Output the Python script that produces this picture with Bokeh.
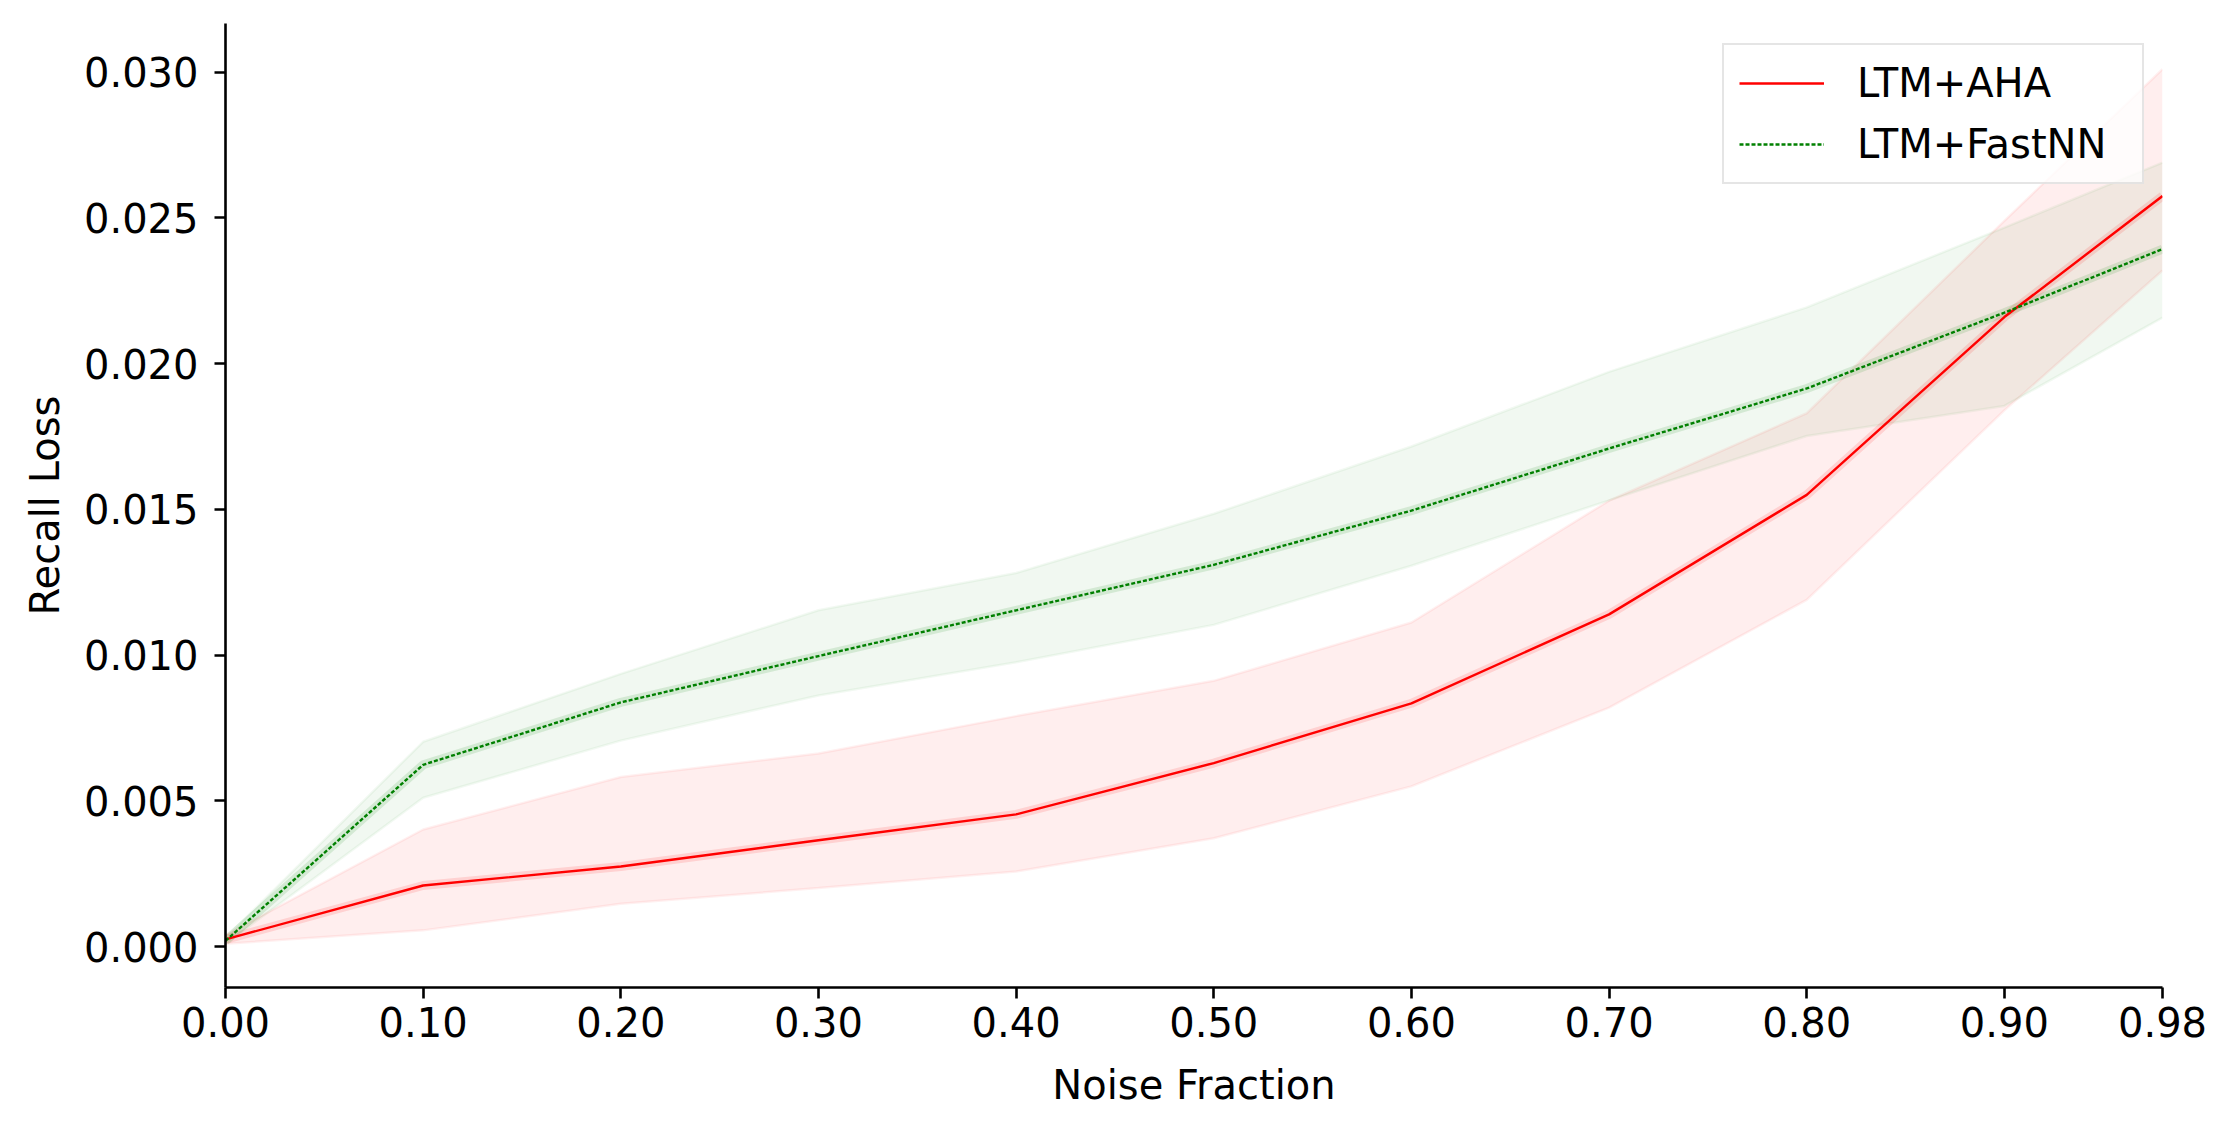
from bokeh.plotting import figure
from bokeh.models import Range1d, FixedTicker, Legend, LegendItem
from bokeh.embed import file_html
from bokeh.resources import INLINE

# ---- data ----
noise = [0.0, 0.1, 0.2, 0.3, 0.4, 0.5, 0.6, 0.7, 0.8, 0.9, 0.98]

aha_mean = [0.00025, 0.0021, 0.00275, 0.00365, 0.00454, 0.0063, 0.00835, 0.0114, 0.0155, 0.0216, 0.02575]
aha_upper = [0.0004, 0.00402, 0.00582, 0.00663, 0.00791, 0.00912, 0.01112, 0.0153, 0.0183, 0.0249, 0.0301]
aha_lower = [0.0001, 0.00056, 0.00147, 0.00201, 0.00258, 0.00372, 0.0055, 0.0082, 0.0119, 0.0184, 0.0232]

fast_mean = [0.0002, 0.00624, 0.00838, 0.00997, 0.01154, 0.0131, 0.01496, 0.01709, 0.01915, 0.02175, 0.02393]
fast_upper = [0.0003, 0.00703, 0.00936, 0.01154, 0.01282, 0.01485, 0.01716, 0.01972, 0.02193, 0.02467, 0.0269]
fast_lower = [0.0001, 0.00511, 0.00707, 0.00862, 0.00976, 0.01104, 0.01307, 0.01531, 0.01752, 0.01855, 0.02158]

x_ticks = [0.0, 0.1, 0.2, 0.3, 0.4, 0.5, 0.6, 0.7, 0.8, 0.9, 0.98]
x_tick_labels = ["0.00", "0.10", "0.20", "0.30", "0.40", "0.50", "0.60", "0.70", "0.80", "0.90", "0.98"]
y_ticks = [0.0, 0.005, 0.010, 0.015, 0.020, 0.025, 0.030]
y_tick_labels = ["0.000", "0.005", "0.010", "0.015", "0.020", "0.025", "0.030"]

series_names = ["LTM+AHA", "LTM+FastNN"]

FONT = "DejaVu Sans"

p = figure(
    frame_width=1937, frame_height=964,
    min_border_left=225, min_border_top=23, min_border_right=63, min_border_bottom=131,
    x_range=Range1d(0.0, 0.98), y_range=Range1d(-0.0014, 0.03167),
    output_backend="svg", toolbar_location=None,
    background_fill_color="white", border_fill_color="white",
)
p.outline_line_color = None
p.xgrid.visible = False
p.ygrid.visible = False

# bands
p.varea(x=noise, y1=aha_lower, y2=aha_upper, fill_color="red", fill_alpha=0.065)
p.line(noise, aha_upper, line_color="red", line_alpha=0.06, line_width=2.5)
p.line(noise, aha_lower, line_color="red", line_alpha=0.06, line_width=2.5)
p.varea(x=noise, y1=fast_lower, y2=fast_upper, fill_color="green", fill_alpha=0.055)
p.line(noise, fast_upper, line_color="green", line_alpha=0.05, line_width=2.5)
p.line(noise, fast_lower, line_color="green", line_alpha=0.05, line_width=2.5)

# halo around means
p.line(noise, aha_mean, line_color="red", line_alpha=0.12, line_width=9)
p.line(noise, fast_mean, line_color="green", line_alpha=0.12, line_width=9)

# mean lines
r_aha = p.line(noise, aha_mean, line_color="red", line_width=2.4)
r_fast = p.line(noise, fast_mean, line_color="green", line_width=2.4, line_dash="4 2")

# axes
for ax in (p.xaxis[0], p.yaxis[0]):
    ax.axis_line_width = 2.6
    ax.axis_line_color = "black"
    ax.major_tick_line_width = 2.6
    ax.major_tick_line_color = "black"
    ax.major_tick_out = 11
    ax.major_tick_in = 0
    ax.minor_tick_out = 0
    ax.minor_tick_in = 0
    ax.major_label_text_font = FONT
    ax.major_label_text_font_size = "40px"
    ax.major_label_text_color = "black"
    ax.axis_label_text_font = FONT
    ax.axis_label_text_font_size = "40px"
    ax.axis_label_text_font_style = "normal"
    ax.axis_label_text_color = "black"

p.xaxis[0].ticker = FixedTicker(ticks=x_ticks)
p.xaxis[0].major_label_overrides = {t: l for t, l in zip(x_ticks, x_tick_labels)}
p.xaxis[0].axis_label = "Noise Fraction"
p.xaxis[0].major_label_standoff = 8
p.xaxis[0].axis_label_standoff = 22

p.yaxis[0].ticker = FixedTicker(ticks=y_ticks)
p.yaxis[0].major_label_overrides = {t: l for t, l in zip(y_ticks, y_tick_labels)}
p.yaxis[0].axis_label = "Recall Loss"
p.yaxis[0].major_label_standoff = 16
p.yaxis[0].axis_label_standoff = 13

legend = Legend(
    items=[LegendItem(label=series_names[0], renderers=[r_aha]),
           LegendItem(label=series_names[1], renderers=[r_fast])],
    location=(1497, 803),
    margin=0,
    padding=15,
    spacing=15,
    label_standoff=33,
    glyph_width=85,
    glyph_height=46,
    label_height=46,
    label_width=270,
    label_text_font=FONT,
    label_text_font_size="40px",
    label_text_color="black",
    border_line_color="#cccccc",
    border_line_width=2.5,
    background_fill_color="white",
    background_fill_alpha=0.8,
)
p.add_layout(legend, "center")

open("out.html", "w").write(file_html(p, INLINE))
